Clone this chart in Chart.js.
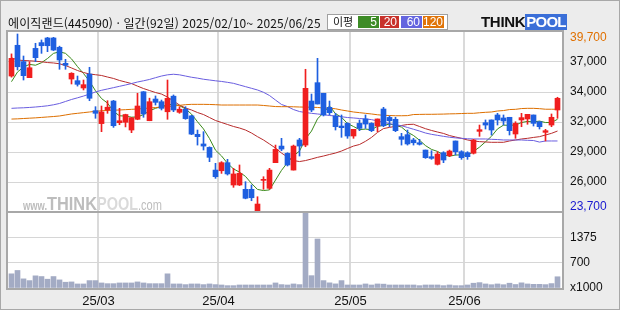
<!DOCTYPE html>
<html lang="ko">
<head>
<meta charset="utf-8">
<title>에이직랜드 일간 차트</title>
<script src="https://cdn.jsdelivr.net/npm/chart.js@4.4.1/dist/chart.umd.min.js"></script>
<style>
  html, body { margin: 0; padding: 0; }
  body { width: 620px; height: 310px; background: #ececec; position: relative; overflow: hidden; }
  #chart { position: absolute; left: 0; top: 0; }
  #frame { position: absolute; left: 0; top: 0; width: 620px; height: 310px; box-sizing: border-box; border: 1px solid #a8a8a8; pointer-events: none; }
  #title { position: absolute; left: 8px; top: 14px; font: 12px/17px "Noto Sans CJK KR", sans-serif; letter-spacing: 0.13px; color: #111; white-space: nowrap; }
  #legend { position: absolute; left: 327px; top: 14px; width: 119px; height: 14px; border: 1px solid #a0a0a0; background: #fff; }
  #legend .lbl { position: absolute; left: 5px; top: -2px; font: 11px/17px "Noto Sans CJK KR", sans-serif; color: #111; }
  #legend .ma { position: absolute; top: 1px; height: 12px; width: 21px; box-sizing: border-box; padding-right: 2px;
                color: #fff; font: 12px/12px "Liberation Sans", sans-serif; text-align: right; }
  #logo { position: absolute; left: 481px; top: 14px; height: 16px; font: bold 15px/16px "Liberation Sans", sans-serif; white-space: nowrap; }
  #think { color: #111; letter-spacing: -0.3px; }
  #pool { display: inline-block; background: #3b6fd8; color: #fff; padding: 0 1px; letter-spacing: -0.8px; }
</style>
</head>
<body>
<canvas id="chart" width="620" height="310"></canvas>
<div id="title">에이직랜드(445090) · 일간(92일) 2025/02/10~ 2025/06/25</div>
<div id="legend">
  <span class="lbl">이평</span>
  <span class="ma" style="left:30px;background:#3d8b26">5</span>
  <span class="ma" style="left:52px;width:19px;background:#c8322b">20</span>
  <span class="ma" style="left:73px;background:#6465df">60</span>
  <span class="ma" style="left:95px;background:#e07408">120</span>
</div>
<div id="logo"><span id="think">THINK</span><span id="pool">POOL</span></div>
<div id="frame"></div>
<script>
// month boundaries on the x axis
const monthLabels = ['25/03', '25/04', '25/05', '25/06'];
const monthStarts = [15, 35, 57, 76];

// daily OHLC, 2025/02/10 ~ 2025/06/25 (92 sessions)
const opens = [
  35900, 38680, 37200, 35750, 38400, 38920, 39340, 39340, 38500, 37050,
  35630, 35480, 34820, 36080, 32770, 31600, 32830, 33640, 31680, 31720,
  31020, 31990, 34480, 31860, 33820, 33580, 32670, 34080, 32620, 32900,
  32300, 30630, 29760, 29450, 27400, 27340, 28070, 26050, 26050, 25660,
  25660, 23730, 26470, 25750, 28070, 29570, 28910, 27400, 30120, 29660,
  33640, 35300, 34340, 33070, 32290, 31380, 31620, 30480, 31620, 32020,
  31620, 31380, 32920, 32160, 31990, 30420, 30600, 30120, 29870, 29210,
  28610, 27920, 28970, 28700, 30030, 29060, 28970, 28920, 30900, 31680,
  31930, 32380, 32110, 32170, 30660, 31930, 32020, 32380, 31770, 30810,
  31470, 32830
];
const highs = [
  37900, 39700, 37710, 37200, 38860, 39160, 39400, 39400, 38600, 37410,
  36200, 35900, 35540, 36690, 33130, 33190, 33670, 33700, 32980, 32450,
  32150, 34340, 34500, 33900, 34100, 33730, 35540, 34190, 33130, 33130,
  32350, 31020, 30870, 29500, 28010, 28160, 28370, 27560, 27860, 26350,
  26050, 24990, 26800, 27560, 29660, 30270, 28970, 29660, 30270, 36510,
  34270, 37500, 34340, 33640, 32530, 32380, 31680, 31080, 31930, 32380,
  31680, 32020, 33070, 32290, 32170, 30720, 31020, 30270, 30180, 29210,
  29150, 29060, 29060, 29210, 30030, 29150, 29060, 30180, 31470, 31930,
  31930, 32530, 32380, 32170, 31770, 32530, 32440, 32380, 31770, 31080,
  32470, 33980
];
const lows = [
  35800, 36450, 35540, 35750, 37200, 37950, 38100, 38200, 36510, 36510,
  35180, 34990, 34640, 33670, 32080, 30870, 32530, 31260, 31500, 31300,
  30780, 31950, 32170, 31860, 33280, 32830, 31990, 32680, 32530, 31990,
  30600, 29660, 29210, 28160, 26650, 27100, 26950, 25840, 26000, 24800,
  24630, 23700, 25660, 25660, 28070, 29150, 27770, 27400, 28670, 29510,
  32680, 33370, 32290, 32380, 31020, 30360, 30270, 30270, 30960, 31170,
  30870, 30870, 31320, 31320, 30870, 29660, 29660, 29660, 29660, 28460,
  28370, 27860, 28070, 28610, 28760, 28370, 28370, 28850, 30450, 31110,
  30570, 31470, 31470, 30570, 30270, 31320, 31540, 31380, 31110, 30030,
  31320, 32080
];
const closes = [
  37500, 36740, 35930, 36650, 37560, 38640, 38640, 38250, 37350, 36870,
  36150, 35150, 35120, 33890, 32530, 32650, 33080, 31410, 31860, 32420,
  32130, 33190, 32470, 33580, 33520, 32980, 33880, 32830, 32900, 32050,
  30650, 30420, 29570, 28550, 26800, 28070, 27050, 27050, 27110, 24850,
  24900, 24330, 26560, 27400, 29270, 29300, 27860, 29570, 29570, 34790,
  32830, 33370, 32380, 32590, 31320, 31230, 30480, 31080, 31170, 31560,
  30960, 32020, 31410, 31860, 30960, 30180, 29760, 29870, 29730, 28520,
  28460, 28850, 28310, 29120, 29060, 28520, 28610, 30120, 31050, 31470,
  31020, 31930, 31840, 30960, 31620, 32140, 32440, 31620, 31320, 30960,
  32170, 33890
];
// volume, x1000 shares
const volumes = [
  385, 476, 248, 201, 330, 311, 239, 311, 220, 157,
  165, 110, 110, 201, 201, 137, 118, 118, 137, 137,
  137, 165, 137, 118, 118, 118, 385, 110, 110, 92,
  110, 110, 92, 110, 92, 82, 64, 64, 82, 82,
  82, 82, 82, 82, 137, 92, 82, 110, 92, 2045,
  335, 1330, 201, 140, 112, 201, 82, 82, 82, 110,
  82, 110, 105, 82, 82, 82, 82, 82, 64, 82,
  82, 82, 64, 82, 64, 64, 82, 130, 146, 110,
  90, 110, 90, 130, 95, 140, 110, 100, 100, 92,
  120, 305
];
// moving averages
const ma5 = [
  35390, 36260, 36720, 36950, 36876, 37104, 37484, 37948, 38088, 37950,
  37452, 36754, 36128, 35436, 34568, 33868, 33454, 32712, 32306, 32284,
  32180, 32202, 32414, 32758, 32978, 33148, 33286, 33358, 33222, 32928,
  32462, 31770, 31118, 30248, 29198, 28682, 28008, 27504, 27216, 26826,
  26192, 25648, 25550, 25608, 26492, 27372, 28078, 28680, 29114, 30218,
  30924, 32026, 32588, 33192, 32498, 32178, 31600, 31340, 31056, 31104,
  31050, 31358, 31424, 31562, 31442, 31286, 30834, 30526, 30100, 29612,
  29268, 29086, 28774, 28652, 28760, 28772, 28724, 29086, 29472, 29954,
  30454, 31118, 31462, 31444, 31474, 31698, 31800, 31756, 31828, 31696,
  31702, 31992
];
const ma20 = [
  37550, 37350, 37300, 37280, 37240, 37190, 37120, 37080, 37010, 36850,
  36630, 36400, 36220, 36080, 36020, 35950, 35810, 35680, 35500, 35360,
  35220, 34990, 34770, 34590, 34410, 34270, 34000, 33640, 33280, 33010,
  32830, 32600, 32420, 32150, 31880, 31700, 31520, 31340, 31200, 31020,
  30750, 30420, 30120, 29760, 29390, 28940, 28580, 28260, 28170, 28260,
  28400, 28550, 28670, 28810, 28940, 29120, 29350, 29570, 29710, 30000,
  30350, 30800, 31150, 31260, 31350, 31430, 31520, 31540, 31340, 31140,
  30980, 30840, 30710, 30520, 30390, 30270, 30120, 30030, 29970, 29940,
  29910, 29910, 29910, 30030, 30120, 30210, 30270, 30350, 30420, 30570,
  30720, 30930
];
const ma60 = [
  32980, 33010, 33030, 33060, 33100, 33150, 33210, 33300, 33420, 33600,
  33780, 33930, 34090, 34270, 34460, 34610, 34730, 34850, 34970, 35090,
  35220, 35360, 35470, 35590, 35750, 35900, 36010, 36060, 36010, 35900,
  35790, 35710, 35610, 35540, 35470, 35410, 35330, 35240, 35090, 34940,
  34790, 34640, 34430, 34140, 33730, 33330, 33140, 32870, 32690, 32600,
  32530, 32470, 32410, 32330, 32290, 32220, 32150, 32110, 32060, 32020,
  31960, 31840, 31720, 31590, 31500, 31410, 31250, 31090, 30930, 30750,
  30630, 30540, 30450, 30370, 30310, 30270, 30230, 30210, 30210, 30210,
  30180, 30160, 30120, 30120, 30120, 30120, 30090, 30070, 29930, 30030,
  30030, 30030
];
const ma120 = [
  32010, 32030, 32060, 32090, 32120, 32160, 32200, 32240, 32290, 32380,
  32470, 32530, 32590, 32650, 32710, 32760, 32790, 32810, 32830, 32860,
  32890, 32920, 32960, 33010, 33050, 33100, 33140, 33190, 33250, 33310,
  33340, 33340, 33340, 33330, 33310, 33280, 33280, 33280, 33280, 33280,
  33280, 33280, 33240, 33190, 33140, 33130, 33130, 33120, 33100, 33090,
  33080, 33060, 33010, 32980, 32940, 32830, 32740, 32650, 32590, 32530,
  32470, 32400, 32350, 32330, 32310, 32310, 32320, 32420, 32430, 32440,
  32440, 32450, 32460, 32480, 32490, 32510, 32530, 32530, 32580, 32620,
  32650, 32740, 32780, 32870, 32890, 32960, 32980, 32980, 32950, 32900,
  32900, 32900
];

// axis labels
const priceTickLabels = ['26,000', '29,000', '32,000', '34,000', '37,000'];
const priceHigh = 39700;
const priceLow = 23700;
const volTickLabels = ['x1000', '700', '1375'];

const UP = '#f01e1e';
const DOWN = '#1e5fe0';
const yMin = 23610, yMax = 39880;
const volMax = 2062.5;
const tickFont = { family: 'Liberation Sans', size: 12 };

const pts = arr => arr.map((v, i) => ({ x: i, y: v }));
const candleColors = closes.map((c, i) => (c >= opens[i] ? UP : DOWN));

function fitText(ctx, text, x, y, w) {
  const m = ctx.measureText(text).width;
  ctx.save();
  ctx.translate(x, y);
  ctx.scale(w / m, 1);
  ctx.fillText(text, 0, 0);
  ctx.restore();
}

const panes = {
  id: 'panes',
  beforeDraw(chart) {
    const { ctx, chartArea } = chart;
    ctx.save();
    ctx.fillStyle = '#fff';
    ctx.fillRect(chartArea.left, chartArea.top, chartArea.width, chartArea.height);
    ctx.restore();
  },
  beforeDatasetsDraw(chart) {
    // watermark
    const ctx = chart.ctx;
    ctx.save();
    ctx.textBaseline = 'alphabetic';
    ctx.fillStyle = '#bdbdbd';
    ctx.font = 'bold 13px "Liberation Sans"';
    fitText(ctx, 'www.', 23, 210, 24);
    ctx.font = 'bold 18px "Liberation Sans"';
    fitText(ctx, 'THINK', 47, 210, 50);
    ctx.fillStyle = '#dadada';
    ctx.font = 'bold 19px "Liberation Sans"';
    fitText(ctx, 'POOL', 97, 210, 41);
    ctx.fillStyle = '#bdbdbd';
    ctx.font = '14px "Liberation Sans"';
    fitText(ctx, '.com', 138, 210, 24);
    ctx.restore();
  },
  afterDraw(chart) {
    const { ctx, chartArea } = chart;
    const y = chart.scales.y;
    const yv = chart.scales.yv;
    ctx.save();
    ctx.strokeStyle = '#a8a8a8';
    ctx.lineWidth = 2;
    ctx.strokeRect(chartArea.left - 1, y.top - 1, chartArea.width + 2, y.bottom - y.top + 1);
    ctx.strokeRect(chartArea.left - 1, yv.top, chartArea.width + 2, yv.bottom - yv.top + 1);
    // high / low labels on the price axis
    ctx.font = '12px "Liberation Sans"';
    ctx.textAlign = 'left';
    ctx.textBaseline = 'middle';
    ctx.fillStyle = '#e07000';
    ctx.fillText(priceHigh.toLocaleString('en-US'), y.left + 8, Math.max(y.getPixelForValue(priceHigh), y.top + 6));
    ctx.fillStyle = '#1818d0';
    ctx.fillText(priceLow.toLocaleString('en-US'), y.left + 8, Math.min(y.getPixelForValue(priceLow), y.bottom - 5));
    ctx.restore();
  }
};

const maLine = (data, color) => ({
  type: 'line', data: pts(data), yAxisID: 'y', borderColor: color, borderWidth: 1,
  pointRadius: 0, tension: 0, order: 2
});

new Chart(document.getElementById('chart'), {
  type: 'bar',
  data: {
    datasets: [
      maLine(ma120, '#dd6f00'),
      maLine(ma60, '#6a5ee0'),
      maLine(ma20, '#b82c2c'),
      maLine(ma5, '#3a8a1a'),
      {
        data: lows.map((l, i) => ({ x: i, y: [l, highs[i]] })),
        yAxisID: 'y', backgroundColor: candleColors, maxBarThickness: 1,
        barPercentage: 1, categoryPercentage: 1, grouped: false, order: 1
      },
      {
        data: opens.map((o, i) => ({ x: i, y: [o, closes[i]] })),
        yAxisID: 'y', backgroundColor: candleColors, maxBarThickness: 5, minBarLength: 1,
        barPercentage: 1, categoryPercentage: 1, grouped: false, order: 0
      },
      {
        data: pts(volumes), yAxisID: 'yv', backgroundColor: '#a3abc4', maxBarThickness: 5,
        barPercentage: 1, categoryPercentage: 1, grouped: false, order: 3
      }
    ]
  },
  options: {
    responsive: false,
    animation: false,
    events: [],
    layout: { padding: { left: 8, top: 32, right: 0, bottom: 0 } },
    plugins: { legend: { display: false }, tooltip: { enabled: false } },
    scales: {
      x: {
        type: 'linear', min: -0.5833, max: 91.75, offset: false,
        afterBuildTicks: axis => { axis.ticks = monthStarts.map(i => ({ value: i - 0.5 })); },
        afterFit: axis => { axis.height = 22; },
        ticks: { callback: (v, i) => monthLabels[i], color: '#111', font: { family: 'Liberation Sans', size: 13 }, padding: 6, maxRotation: 0, autoSkip: false },
        grid: { color: '#dadada', lineWidth: 2, drawTicks: false, offset: false },
        border: { display: false }
      },
      y: {
        position: 'right', stack: 'pane', stackWeight: 180, min: yMin, max: yMax,
        afterBuildTicks: axis => {
          axis.ticks = priceTickLabels.map((t, k) => ({ value: yMin + (k + 1) * (yMax - yMin) / 6 }));
        },
        afterFit: axis => { axis.width = 58; },
        ticks: { callback: (v, i) => priceTickLabels[i], color: '#111', font: tickFont, padding: 8 },
        grid: { color: '#d6d6d6', lineWidth: 1, drawTicks: false },
        border: { display: false }
      },
      yv: {
        position: 'right', stack: 'pane', stackWeight: 76, min: 0, max: volMax,
        afterBuildTicks: axis => {
          axis.ticks = volTickLabels.map((t, k) => ({ value: k * volMax / 3 }));
        },
        afterFit: axis => { axis.width = 58; },
        ticks: { callback: (v, i) => volTickLabels[i], color: '#111', font: tickFont, padding: 8 },
        grid: { color: c => (c.index === 0 ? 'rgba(0,0,0,0)' : '#d6d6d6'), lineWidth: 1, drawTicks: false },
        border: { display: false }
      }
    }
  },
  plugins: [panes]
});
</script>
</body>
</html>
